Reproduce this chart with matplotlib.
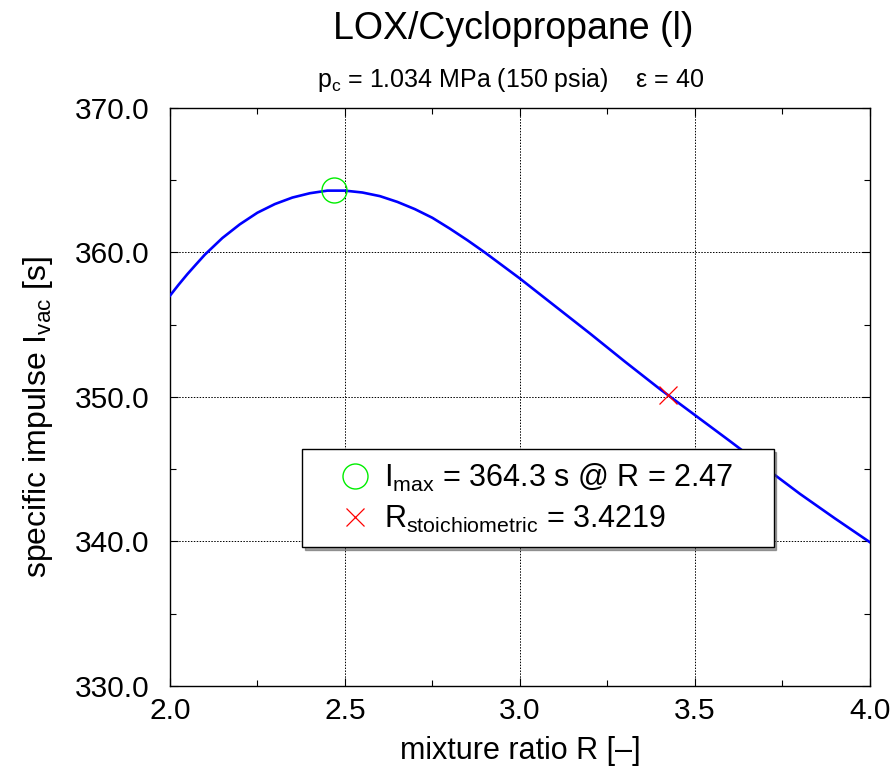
import matplotlib
matplotlib.use("Agg")
import matplotlib.pyplot as plt
from matplotlib.ticker import MultipleLocator, FormatStrFormatter

plt.rcParams['font.family'] = ['Liberation Sans', 'DejaVu Sans']
plt.rcParams['mathtext.fontset'] = 'custom'
plt.rcParams['mathtext.rm'] = 'Liberation Sans'
plt.rcParams['mathtext.it'] = 'Liberation Sans'

# mixture ratio R and vacuum specific impulse (s)
ratio = [2.0, 2.025, 2.05, 2.075, 2.1, 2.15, 2.2, 2.25, 2.3, 2.35, 2.4, 2.45, 2.5,
         2.55, 2.6, 2.65, 2.7, 2.75, 2.8, 2.85, 2.9, 2.95, 3.0,
         3.1, 3.2, 3.3, 3.4, 3.5, 3.6, 3.7, 3.8, 3.9, 4.0]
isp = [357.0, 357.77, 358.5, 359.18, 359.85, 361.0, 361.95, 362.75, 363.35, 363.8, 364.1, 364.28, 364.28,
       364.15, 363.9, 363.5, 363.0, 362.4, 361.65, 360.85, 360.0, 359.1, 358.2,
       356.3, 354.4, 352.45, 350.55, 348.75, 346.95, 345.12, 343.3, 341.6, 339.95]

r_opt, isp_max = 2.47, 364.3
r_stoich, isp_stoich = 3.4219, 350.15

fig = plt.figure(figsize=(8.94, 7.74), dpi=100)
ax = fig.add_axes([0.190, 0.1137, 0.783, 0.7468])

ax.plot(ratio, isp, color='blue', lw=1.9, zorder=3)
ax.plot([r_opt], [isp_max], 'o', mfc='none', mec='#00ee00', ms=18, mew=1.0,
        ls='none', zorder=4, label=r'I$_\mathrm{max}$ = 364.3 s @ R = 2.47')
ax.plot([r_stoich], [isp_stoich], 'x', color='red', ms=13, mew=0.9,
        ls='none', zorder=4, label=r'R$_\mathrm{stoichiometric}$ = 3.4219')

ax.set_xlim(2.0, 4.0)
ax.set_ylim(330, 370)
ax.xaxis.set_major_locator(MultipleLocator(0.5))
ax.xaxis.set_minor_locator(MultipleLocator(0.25))
ax.yaxis.set_major_locator(MultipleLocator(10))
ax.yaxis.set_minor_locator(MultipleLocator(5))
ax.xaxis.set_major_formatter(FormatStrFormatter('%.1f'))
ax.yaxis.set_major_formatter(FormatStrFormatter('%.1f'))
ax.tick_params(which='both', direction='in', top=True, right=True, labelsize=21.5, width=0.8)
ax.tick_params(which='major', length=6)
ax.tick_params(which='minor', length=4)
ax.tick_params(axis='x', pad=8)
ax.tick_params(axis='y', pad=15)
ax.grid(True, which='major', color='black', ls=(0, (1.5, 1.5)), lw=0.7)
for s in ax.spines.values():
    s.set_linewidth(1.0)

ax.set_xlabel('mixture ratio R [–]', fontsize=22, labelpad=8)
fig.text(38 / 894, 1 - 417 / 774, r'specific impulse I$_\mathrm{vac}$ [s]', fontsize=23,
         rotation=90, ha='center', va='center')

fig.text(0.574, 0.962, 'LOX/Cyclopropane (l)', fontsize=27, ha='center', va='center')
fig.text(0.571, 0.897, r'p$_\mathrm{c}$ = 1.034 MPa (150 psia)    ε = 40',
         fontsize=18, ha='center', va='center')

leg = ax.legend(loc='lower left', bbox_to_anchor=(0.1886, 0.2405, 0.674, 0.168),
                mode='expand', fontsize=22, frameon=True, fancybox=False, shadow=True,
                handlelength=2.7, handletextpad=-0.4, borderpad=0.4,
                labelspacing=0.33, borderaxespad=0)
leg.get_frame().set_edgecolor('black')
leg.get_frame().set_linewidth(1.0)

fig.savefig('out.png', dpi=100)
